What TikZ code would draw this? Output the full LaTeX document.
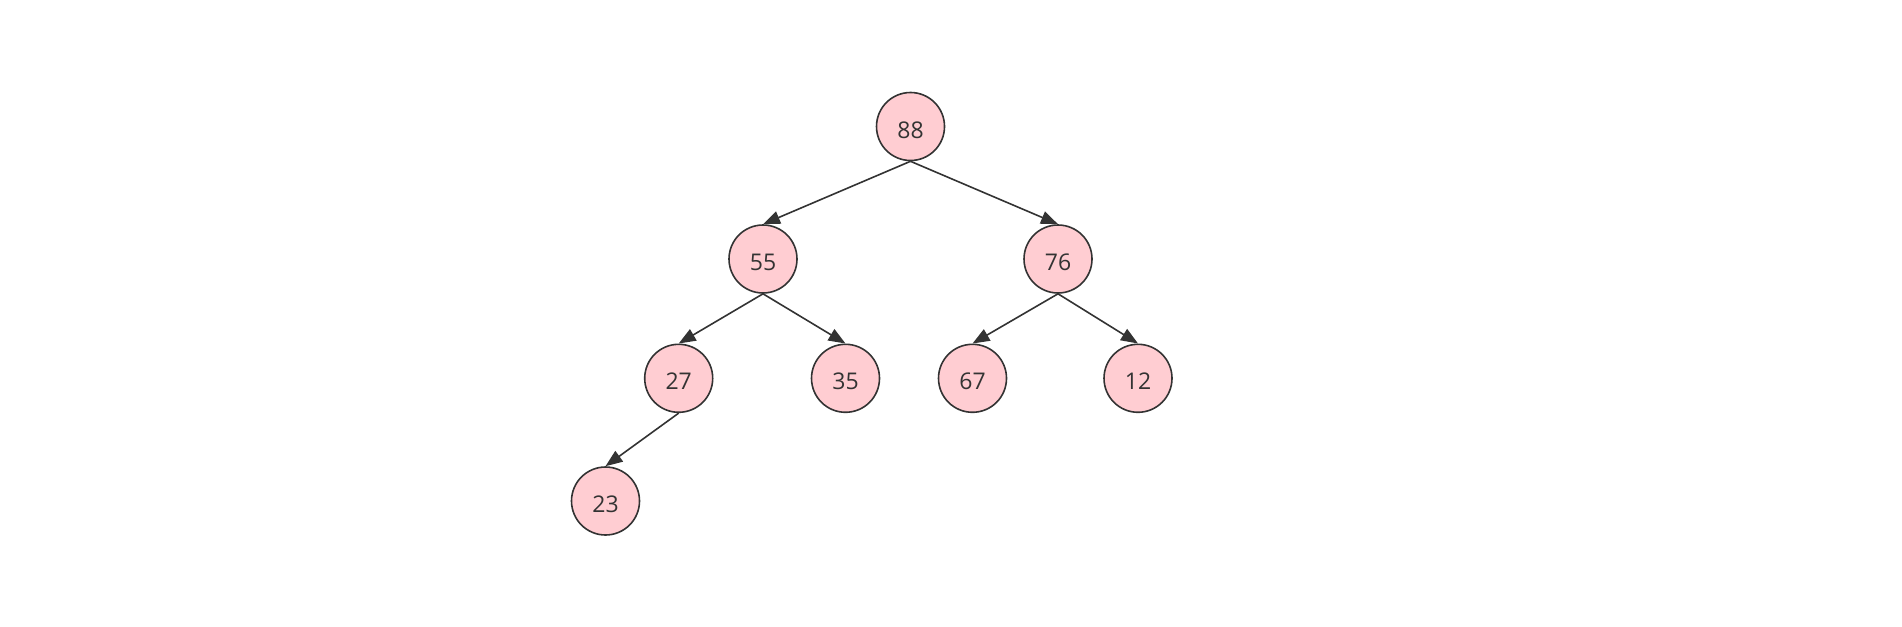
\documentclass[tikz,border=0pt]{standalone}
\usepackage{fontspec}
\setmainfont{Open Sans}
\usetikzlibrary{arrows.meta}
\definecolor{nodefill}{HTML}{FFCDD2}
\definecolor{ink}{HTML}{333333}
\newcommand{\nlabel}[1]{\raisebox{-11.5pt}[0pt][0pt]{#1}}
\begin{document}
\begin{tikzpicture}[x=1pt,y=-1pt,
  tnode/.style={circle,draw=ink,fill=nodefill,line width=1.6pt,minimum size=68pt,inner sep=0pt,text=ink,font=\fontsize{23}{26}\selectfont},
  tedge/.style={draw=ink,line width=1.6pt,-{Triangle[length=17pt,width=13pt]}}]
\useasboundingbox (0,0) rectangle (1902,626);
\node[tnode] (n88) at (910.5,126.5) {\nlabel{88}};
\node[tnode] (n55) at (763,259) {\nlabel{55}};
\node[tnode] (n76) at (1058,259) {\nlabel{76}};
\node[tnode] (n27) at (678.7,378.3) {\nlabel{27}};
\node[tnode] (n35) at (845.5,378.3) {\nlabel{35}};
\node[tnode] (n67) at (972.5,378.3) {\nlabel{67}};
\node[tnode] (n12) at (1138,378.3) {\nlabel{12}};
\node[tnode] (n23) at (605.5,501) {\nlabel{23}};
\draw[tedge] (n88.south) -- (n55.north);
\draw[tedge] (n88.south) -- (n76.north);
\draw[tedge] (n55.south) -- (n27.north);
\draw[tedge] (n55.south) -- (n35.north);
\draw[tedge] (n76.south) -- (n67.north);
\draw[tedge] (n76.south) -- (n12.north);
\draw[tedge] (n27.south) -- (n23.north);
\end{tikzpicture}
\end{document}
